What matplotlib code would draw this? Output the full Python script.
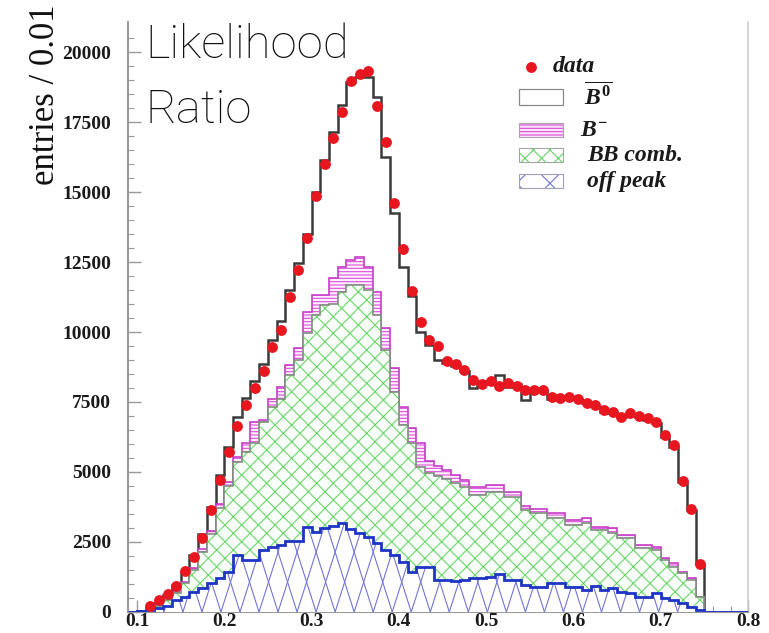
import numpy as np
import matplotlib
matplotlib.use("Agg")
import matplotlib.pyplot as plt
from matplotlib.patches import Rectangle
from matplotlib.lines import Line2D
from matplotlib.collections import LineCollection

plt.rcParams['mathtext.fontset'] = 'custom'
plt.rcParams['mathtext.it'] = 'Liberation Serif:italic:bold'
plt.rcParams['mathtext.rm'] = 'Liberation Serif:bold'
plt.rcParams['hatch.linewidth'] = 0.8

# ---------------- data (bins of width 0.01 starting at 0.09) ----------------
bin_low = 0.09
bin_width = 0.01

data = [0, 0, 210, 430, 650, 930, 1460, 1950, 2650, 3650,
        4720, 5700, 6660, 7400, 8010, 8610, 9480, 10070, 11260, 12210,
        13340, 14860, 16000, 16930, 17860, 18960, 19210, 19320, 18070, 16790,
        14610, 12960, 11450, 10350, 9710, 9500, 8960, 8860, 8640, 8290,
        8140, 8250, 8070, 8170, 8070, 7930, 7930, 7930, 7680, 7640,
        7680, 7600, 7460, 7400, 7210, 7160, 6980, 7120, 7000, 6930,
        6800, 6320, 5960, 4680, 3680, 1720, 0, 0, 0, 0, 0]

total_b0 = [0, 40, 150, 330, 620, 950, 1400, 2050, 2800, 3760,
            4900, 5900, 6980, 7650, 8250, 8850, 9700, 10400, 11500, 12450,
            13500, 15000, 16150, 17150, 18100, 18930, 19120, 19120, 18400, 16260,
            14250, 12330, 11300, 10000, 9550, 9000, 8900, 8800, 8600, 8000,
            8150, 8250, 8450, 8050, 8150, 7570, 7900, 7900, 7600, 7700,
            7650, 7600, 7450, 7350, 7150, 7100, 6950, 7050, 6950, 6850,
            6750, 6250, 5900, 4650, 3650, 1720, 0, 0, 0, 0, 0]

stack_bminus = [0, 30, 110, 250, 460, 720, 1080, 1560, 2250, 2900,
                3850, 4650, 5550, 6020, 6800, 6850, 7600, 8050, 8820, 9420,
                10730, 11320, 11320, 11920, 12330, 12570, 12690, 12330, 11440, 10130,
                8700, 7330, 6560, 6020, 5400, 5200, 5070, 4890, 4710, 4450,
                4450, 4540, 4540, 4300, 4300, 3790, 3670, 3670, 3520, 3520,
                3290, 3290, 3350, 3050, 3050, 2990, 2750, 2750, 2400, 2400,
                2330, 1920, 1740, 1440, 1200, 550, 0, 0, 0, 0, 0]

stack_bbcomb = [0, 30, 100, 230, 430, 680, 1030, 1500, 2150, 2800,
                3700, 4500, 5370, 5730, 6020, 6800, 7330, 7600, 8460, 9000,
                9950, 10600, 10960, 11000, 11440, 11680, 11680, 11500, 10600, 9360,
                7870, 6680, 6020, 5190, 4950, 4850, 4740, 4600, 4450, 4180,
                4180, 4300, 4300, 4120, 4120, 3640, 3520, 3520, 3350, 3350,
                3110, 3110, 3170, 2930, 2930, 2810, 2630, 2630, 2270, 2270,
                2210, 1860, 1620, 1380, 1140, 550, 0, 0, 0, 0, 0]

off_peak = [0, 20, 70, 130, 210, 430, 550, 730, 850, 1050,
            1200, 1440, 2040, 1860, 1860, 2210, 2330, 2390, 2550, 2550,
            3050, 2870, 2990, 3070, 3190, 2950, 2830, 2690, 2450, 2210,
            2040, 1800, 1440, 1620, 1620, 1140, 1140, 1120, 1140, 1200,
            1200, 1260, 1360, 1140, 1150, 960, 900, 900, 1020, 1020,
            900, 900, 790, 930, 790, 850, 730, 690, 550, 550,
            670, 490, 430, 310, 190, 60, 0, 0, 0, 0, 0]

xtick_values = [0.1, 0.2, 0.3, 0.4, 0.5, 0.6, 0.7, 0.8]
xtick_labels = ['0.1', '0.2', '0.3', '0.4', '0.5', '0.6', '0.7', '0.8']
ytick_values = [0, 2500, 5000, 7500, 10000, 12500, 15000, 17500, 20000]
ytick_labels = ['0', '2500', '5000', '7500', '10000', '12500', '15000', '17500', '20000']

legend_labels = ['data', r'$\overline{B^{0}}$', r'$B^{-}$', 'BB comb.', 'off peak']

# ---------------- figure ----------------
data = np.array(data, dtype=float)
n = len(data)
edges = bin_low + bin_width * np.arange(n + 1)
centers = edges[:-1] + bin_width / 2

W, H = 769, 633
fig = plt.figure(figsize=(W / 100, H / 100), dpi=100)
axL, axR, axB, axT = 128, 748, 612, 22
ax = fig.add_axes([axL / W, 1 - axB / H, (axR - axL) / W, (axB - axT) / H])

# total (B0 on top of everything)
ax.stairs(total_b0, edges, baseline=0, fill=False, color='#3a3a3a', lw=1.8, zorder=2)
# B- stack
ax.stairs(stack_bminus, edges, baseline=0, fill=True, facecolor='#fdf0fd',
          edgecolor='#dc50dc', hatch='-----', lw=0, zorder=3)
ax.stairs(stack_bminus, edges, baseline=0, fill=False, color='#c83cc8', lw=1.2, zorder=3.1)
# BB comb stack
ax.stairs(stack_bbcomb, edges, baseline=0, fill=True, facecolor='#fbfffb',
          edgecolor='#6ad66a', hatch='xx', lw=0, zorder=4)
ax.stairs(stack_bbcomb, edges, baseline=0, fill=False, color='#7f8f7f', lw=1.2, zorder=4.1)
# off peak
bp = ax.stairs(off_peak, edges, baseline=0, fill=True, facecolor='white',
               edgecolor='none', lw=0, zorder=5)
d = 0.0218
half_h = 1070.0
slope = half_h / (d / 2)
ytop = 4000.0
segs = []
for x0 in np.arange(0.0, 0.9, d):
    segs.append([(x0, 0), (x0 + ytop / slope, ytop)])
    segs.append([(x0, 0), (x0 - ytop / slope, ytop)])
lc = LineCollection(segs, colors='#7474d6', linewidths=0.8, zorder=5.1)
ax.add_collection(lc, autolim=False)
lc.set_clip_path(bp)
ax.stairs(off_peak, edges, baseline=0, fill=False, color='#1e34c4', lw=2.0, zorder=5.2)

# data points
mask = data > 0
ax.plot(centers[mask], data[mask], 'o', color='#e8161e', ms=7.8, mec='none', zorder=10)

ax.set_xlim(0.0897, 0.80)
ax.set_ylim(0, (axB - axT) / 0.028)

# axes styling
for s in ['left', 'bottom']:
    ax.spines[s].set_color('#9a9a9a')
    ax.spines[s].set_linewidth(1.5)
ax.spines['right'].set_color('#d0d0d0')
ax.spines['right'].set_linewidth(1.2)
ax.spines['top'].set_visible(False)

ax.set_xticks(xtick_values)
ax.set_xticklabels(xtick_labels)
ax.set_yticks(ytick_values)
ax.set_yticklabels(ytick_labels)
ax.set_xticks(np.arange(0.1, 0.8, 0.02), minor=True)
ax.set_yticks(np.arange(0, 21000, 500), minor=True)
ax.tick_params(which='both', direction='in', color='#9a9a9a', right=False, top=False)
ax.tick_params(which='major', length=9, width=1)
ax.tick_params(which='minor', length=4.5, width=0.8)
ax.tick_params(axis='y', pad=12, labelsize=14, labelcolor='#1a1a1a')
ax.tick_params(axis='x', pad=0.5, labelsize=14, labelcolor='#1a1a1a')
for t in ax.get_xticklabels() + ax.get_yticklabels():
    t.set_fontfamily('Liberation Serif')
    t.set_fontweight('bold')

# y label
fig.text(46 / W, 1 - 95 / H, 'entries / 0.01', rotation=90, ha='center', va='center',
         fontsize=25, family='Liberation Serif', color='#111111')

# title-like annotation
fig.text(145 / W, 1 - 58 / H, 'Likelihood', fontsize=34, family='Roboto',
         fontweight='light', va='baseline', ha='left', color='#111111')
fig.text(145 / W, 1 - 123 / H, 'Ratio', fontsize=34, family='Roboto',
         fontweight='light', va='baseline', ha='left', color='#111111')

# ---------------- manual legend ----------------
def fx(px):
    return px / W

def fy(py):
    return 1 - py / H

tf = fig.transFigure
# data marker
fig.add_artist(Line2D([fx(531)], [fy(67)], marker='o', color='#e8161e', ms=7.8,
                      mec='none', linestyle='none', transform=tf))
box_x0, box_x1 = 519, 563
rows = [(89, 105), (123, 137), (148, 162), (174, 188)]
# B0 box
fig.add_artist(Rectangle((fx(box_x0), fy(rows[0][1])), fx(box_x1 - box_x0),
                         (rows[0][1] - rows[0][0]) / H, transform=tf,
                         facecolor='white', edgecolor='#8a8a8a', lw=0.9))
# B- box
fig.add_artist(Rectangle((fx(box_x0), fy(rows[1][1])), fx(box_x1 - box_x0),
                         (rows[1][1] - rows[1][0]) / H, transform=tf,
                         facecolor='#fbe4fb', edgecolor='#d84ad8', hatch='-----', lw=0))
fig.add_artist(Rectangle((fx(box_x0), fy(rows[1][1])), fx(box_x1 - box_x0),
                         (rows[1][1] - rows[1][0]) / H, transform=tf,
                         facecolor='none', edgecolor='#b0a0b0', lw=0.8))
# BB comb box
fig.add_artist(Rectangle((fx(box_x0), fy(rows[2][1])), fx(box_x1 - box_x0),
                         (rows[2][1] - rows[2][0]) / H, transform=tf,
                         facecolor='white', edgecolor='#66d466', hatch='xx', lw=0))
fig.add_artist(Rectangle((fx(box_x0), fy(rows[2][1])), fx(box_x1 - box_x0),
                         (rows[2][1] - rows[2][0]) / H, transform=tf,
                         facecolor='none', edgecolor='#a0a8a0', lw=0.8))
# off peak box
fig.add_artist(Rectangle((fx(box_x0), fy(rows[3][1])), fx(box_x1 - box_x0),
                         (rows[3][1] - rows[3][0]) / H, transform=tf,
                         facecolor='white', edgecolor='#7474d6', hatch='x', lw=0))
fig.add_artist(Rectangle((fx(box_x0), fy(rows[3][1])), fx(box_x1 - box_x0),
                         (rows[3][1] - rows[3][0]) / H, transform=tf,
                         facecolor='none', edgecolor='#a0a0b8', lw=0.8))

text_pos = [(553, 67), (584, 97), (580, 130), (587, 155), (587, 181)]
for (tx, ty), lab in zip(text_pos, legend_labels):
    fig.text(fx(tx), fy(ty), lab, fontsize=17, family='Liberation Serif',
             fontweight='bold', fontstyle='italic', va='center', ha='left', color='#1a1a1a')

fig.savefig('out.png', dpi=100)
